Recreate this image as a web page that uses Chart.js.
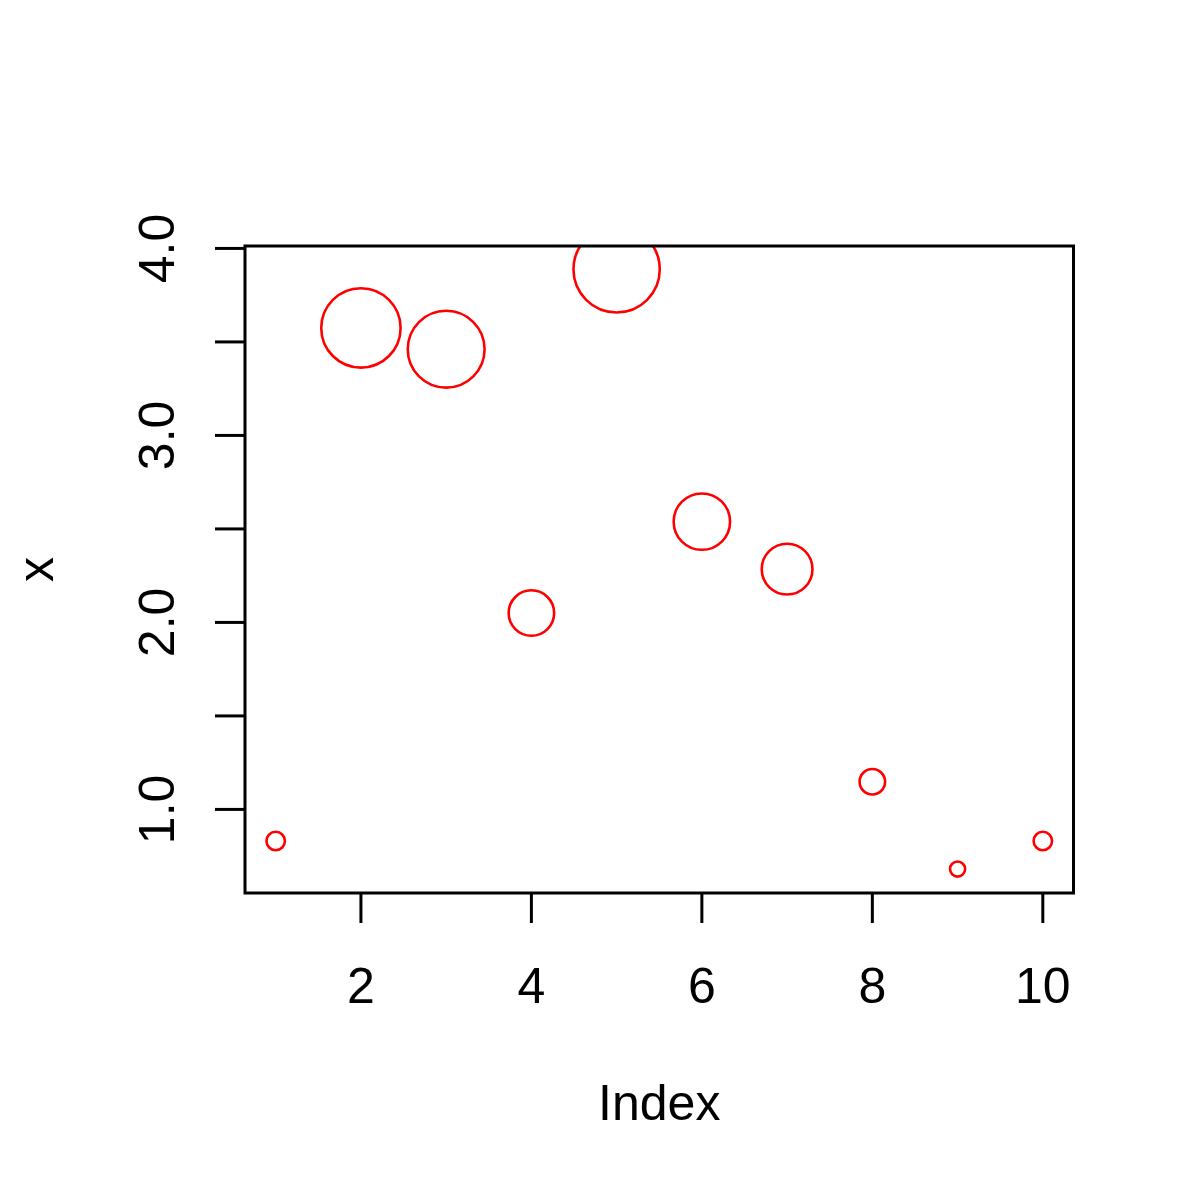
<!DOCTYPE html>
<html lang="en">
  <head>
    <meta charset="UTF-8" />
    <title>bubbles</title>
    <script src="https://cdn.jsdelivr.net/npm/chart.js"></script>
    <style>
      html, body { margin: 0; padding: 0; background: #fff; }
      .chart-box { width: 1200px; height: 1200px; }
    </style>
  </head>
  <body>
    <div class="chart-box">
      <canvas id="bubbleChart"></canvas>
    </div>

    <script>
      // values
      var index = [1, 2, 3, 4, 5, 6, 7, 8, 9, 10];
      var values = [0.831, 3.575, 3.461, 2.05, 3.888, 2.539, 2.285, 1.148, 0.681, 0.831];
      var xTicks = [2, 4, 6, 8, 10];
      var xTickLabels = ["2", "4", "6", "8", "10"];
      var yTicks = [1.0, 1.5, 2.0, 2.5, 3.0, 3.5, 4.0];
      var yTickLabels = ["1.0", "", "2.0", "", "3.0", "", "4.0"];

      var FONT = "50px 'Liberation Sans', Arial, sans-serif";
      var RADIUS_PER_UNIT = 11.1; // circle radius is proportional to the value
      var TICK_LEN = 30;

      var points = index.map(function (i, k) {
        return { x: i, y: values[k] };
      });

      // R style box, ticks and labels
      var rAxes = {
        id: "rAxes",
        afterDraw: function (chart) {
          var c = chart.ctx;
          var a = chart.chartArea;
          var xs = chart.scales.x;
          var ys = chart.scales.y;
          c.save();
          c.strokeStyle = "#000";
          c.fillStyle = "#000";
          c.lineWidth = 3;
          c.strokeRect(a.left, a.top, a.right - a.left, a.bottom - a.top);

          c.font = FONT;
          c.textAlign = "center";
          c.textBaseline = "alphabetic";

          xTicks.forEach(function (t, k) {
            var px = xs.getPixelForValue(t);
            c.beginPath();
            c.moveTo(px, a.bottom);
            c.lineTo(px, a.bottom + TICK_LEN);
            c.stroke();
            c.fillText(xTickLabels[k], px, 1003);
          });

          yTicks.forEach(function (t, k) {
            var py = ys.getPixelForValue(t);
            c.beginPath();
            c.moveTo(a.left, py);
            c.lineTo(a.left - TICK_LEN, py);
            c.stroke();
            if (yTickLabels[k]) {
              c.save();
              c.translate(174, py);
              c.rotate(-Math.PI / 2);
              c.fillText(yTickLabels[k], 0, 0);
              c.restore();
            }
          });

          c.fillText("Index", (a.left + a.right) / 2, 1120);
          c.save();
          c.translate(53, (a.top + a.bottom) / 2);
          c.rotate(-Math.PI / 2);
          c.fillText("x", 0, 0);
          c.restore();
          c.restore();
        },
      };

      var ctx = document.getElementById("bubbleChart").getContext("2d");
      var bubbleChart = new Chart(ctx, {
        type: "bubble",
        data: {
          datasets: [
            {
              data: points,
              backgroundColor: "rgba(0,0,0,0)",
              borderColor: "#ff0000",
              borderWidth: 2.6,
              hoverBorderWidth: 2.6,
              radius: function (c) {
                return values[c.dataIndex] * RADIUS_PER_UNIT;
              },
              clip: 0,
            },
          ],
        },
        options: {
          responsive: true,
          maintainAspectRatio: false,
          animation: false,
          events: [],
          layout: {
            padding: { left: 245, top: 246, right: 126.5, bottom: 307 },
          },
          plugins: {
            legend: { display: false },
            tooltip: { enabled: false },
          },
          scales: {
            x: { type: "linear", min: 0.64, max: 10.36, display: false },
            y: { type: "linear", min: 0.553, max: 4.013, display: false },
          },
        },
        plugins: [rAxes],
      });
    </script>
  </body>
</html>
